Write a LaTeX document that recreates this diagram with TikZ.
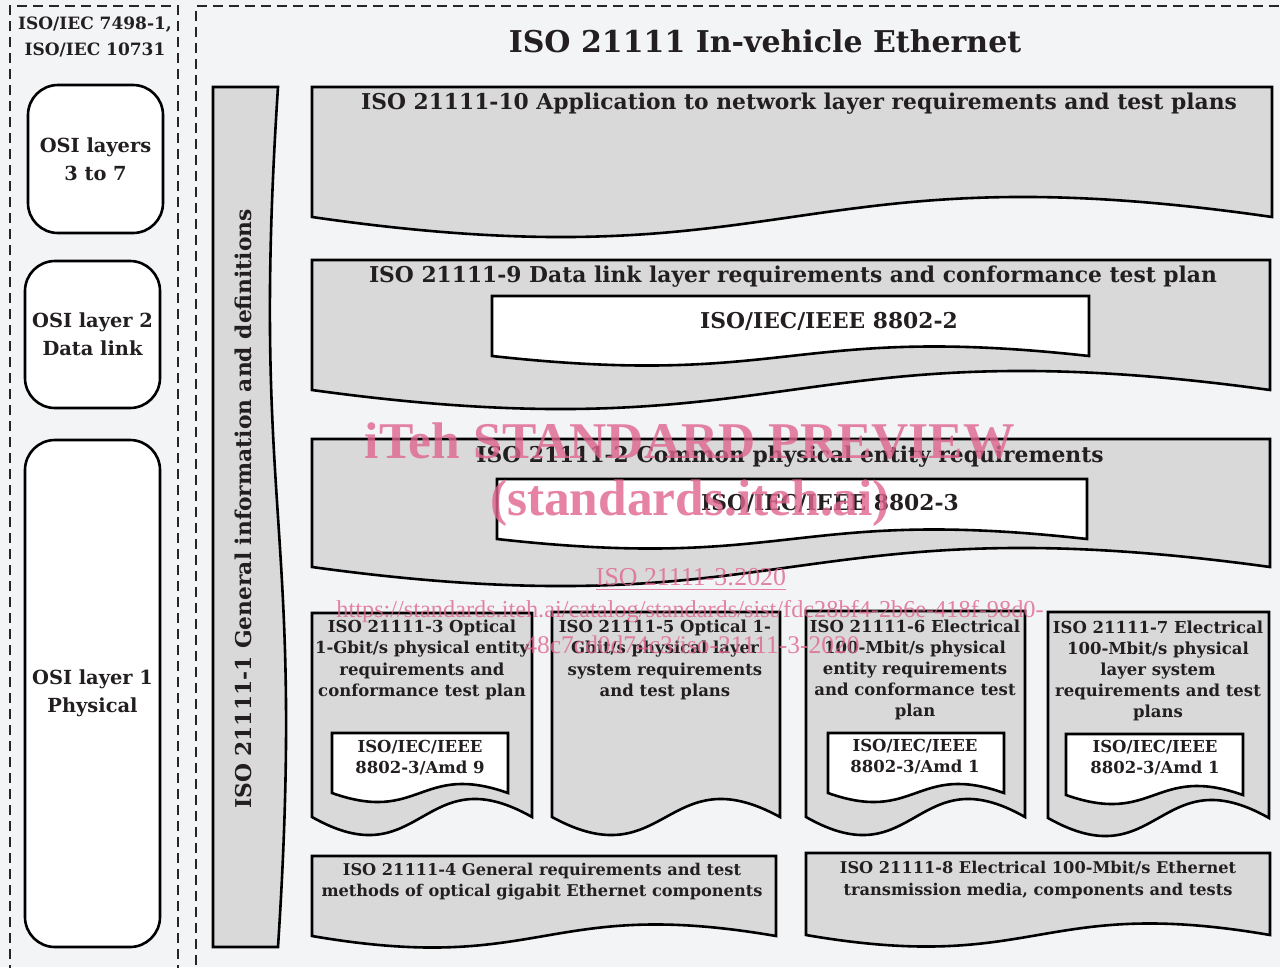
\documentclass[tikz,border=0pt]{standalone}
\usepackage{fontspec}
\setmainfont{DejaVu Serif}
\newfontfamily\wmfont{Liberation Serif}
\definecolor{bg}{HTML}{F3F4F6}
\definecolor{shade}{HTML}{D9D9D9}
\definecolor{ink}{HTML}{231F20}
\definecolor{wm}{HTML}{E0658F}
\newcommand\TitleFont{\fontsize{30}{36}\selectfont\bfseries}
\newcommand\HdrFont{\fontsize{21.8}{26}\selectfont\bfseries}
\newcommand\StdFont{\fontsize{21.8}{26}\selectfont\bfseries}
\newcommand\SmallFont{\fontsize{16.5}{21.2}\selectfont\bfseries}
\newcommand\BotFont{\fontsize{16.2}{21.2}\selectfont\bfseries}
\newcommand\OsiFont{\fontsize{19.4}{28}\selectfont\bfseries}
\newcommand\LeftFont{\fontsize{17}{26}\selectfont\bfseries}
\newcommand\DocShape[6]{\path[#1] (#2,#3) -- (#4,#3) -- (#4,#5) .. controls ({(#2+#4)/2},{#5-3.47*#6}) and ({(#2+#4)/2},{#5+3.47*#6}) .. (#2,#5) -- cycle;}
\tikzset{
  docline/.style={draw=black, line width=2.6pt, line join=miter},
  gdoc/.style={docline, fill=shade},
  wdoc/.style={docline, fill=white},
  osibox/.style={draw=black, line width=2.6pt, fill=white, rounded corners=30pt, align=center, font=\OsiFont, text=ink, inner sep=0pt},
  panel/.style={draw=black!85, line width=1.5pt, dash pattern=on 10pt off 6pt},
  hdr/.style={font=\HdrFont, text=ink, inner sep=0pt},
  stdtxt/.style={font=\StdFont, text=ink, inner sep=0pt},
  smalltxt/.style={font=\SmallFont, text=ink, inner sep=0pt, align=center},
  bottxt/.style={font=\BotFont, text=ink, inner sep=0pt, align=center},
  wmtxt/.style={text=wm, opacity=0.8, inner sep=0pt}
}
\begin{document}
\begin{tikzpicture}[x=1pt,y=-1pt]
\fill[bg] (0,0) rectangle (1280,967);
\useasboundingbox (0,0) rectangle (1280,967);
% panels
\draw[panel] (10,975) -- (10,6) -- (178,6) -- (178,975);
\draw[panel] (1295,6) -- (196,6) -- (196,975);
% left column
\node[font=\LeftFont, text=ink, align=center, inner sep=0pt] (leftref) at (95,37) {ISO/IEC 7498-1,\\ISO/IEC 10731};
\node[osibox, minimum width=135pt, minimum height=148pt] (osi37) at (95.5,159) {OSI layers\\3 to 7};
\node[osibox, minimum width=135pt, minimum height=147pt] (osi2) at (92.5,334.5) {OSI layer 2\\Data link};
\node[osibox, minimum width=135pt, minimum height=507pt] (osi1) at (92.5,693.5) {OSI layer 1\\Physical};
% title
\node[font=\TitleFont, text=ink, inner sep=0pt] (title) at (765,41) {ISO 21111 In-vehicle Ethernet};
% general info shape
\path[gdoc] (213,87) -- (278,87) .. controls (250,517) and (306,517) .. (278,947) -- (213,947) -- cycle;
\node[hdr, rotate=90] (part1) at (243,509) {ISO 21111-1 General information and definitions};
% part 10
\DocShape{gdoc}{312}{87}{1272}{217}{20}
\node[hdr] (part10) at (799,104) {ISO 21111-10 Application to network layer requirements and test plans};
% part 9
\DocShape{gdoc}{312}{260}{1270}{390}{19}
\node[hdr] (part9) at (793,277) {ISO 21111-9 Data link layer requirements and conformance test plan};
\DocShape{wdoc}{492}{296}{1089}{356}{9.5}
\node[stdtxt] (ieee2) at (829,321) {ISO/IEC/IEEE 8802-2};
% part 2
\DocShape{gdoc}{312}{439}{1270}{567}{19}
\node[hdr] (part2) at (790,457) {ISO 21111-2 Common physical entity requirements};
\DocShape{wdoc}{497}{479}{1087}{539}{9.5}
\node[stdtxt] (ieee3) at (830,503) {ISO/IEC/IEEE 8802-3};
% part 3
\DocShape{gdoc}{312}{613}{532}{817}{18}
\node[smalltxt] (part3) at (422,660) {ISO 21111-3 Optical\\1-Gbit/s physical entity\\requirements and\\conformance test plan};
\DocShape{wdoc}{332}{733}{508}{793}{9}
\node[smalltxt] (amd9) at (420,758) {ISO/IEC/IEEE\\8802-3/Amd 9};
% part 5
\DocShape{gdoc}{552}{612}{780}{817}{18}
\node[smalltxt] (part5) at (665,660) {ISO 21111-5 Optical 1-\\Gbit/s physical layer\\system requirements\\and test plans};
% part 6
\DocShape{gdoc}{806}{611}{1025}{817}{18}
\node[smalltxt] (part6) at (915,670) {ISO 21111-6 Electrical\\100-Mbit/s physical\\entity requirements\\and conformance test\\plan};
\DocShape{wdoc}{828}{733}{1004}{793}{9}
\node[smalltxt] (amd1a) at (915,757) {ISO/IEC/IEEE\\8802-3/Amd 1};
% part 7
\DocShape{gdoc}{1048}{612}{1269}{818}{18}
\node[smalltxt] (part7) at (1158,671) {ISO 21111-7 Electrical\\100-Mbit/s physical\\layer system\\requirements and test\\plans};
\DocShape{wdoc}{1066}{734}{1243}{795}{9}
\node[smalltxt] (amd1b) at (1155,758) {ISO/IEC/IEEE\\8802-3/Amd 1};
% part 4
\DocShape{gdoc}{312}{856}{776}{936}{11.5}
\node[bottxt] (part4) at (542,882) {ISO 21111-4 General requirements and test\\methods of optical gigabit Ethernet components};
% part 8
\DocShape{gdoc}{806}{853}{1270}{935}{11.5}
\node[bottxt] (part8) at (1038,880) {ISO 21111-8 Electrical 100-Mbit/s Ethernet\\transmission media, components and tests};
% watermark
\node[wmtxt] (wm1) at (690,441) {\resizebox{650pt}{!}{\wmfont\bfseries iTeh STANDARD PREVIEW}};
\node[wmtxt] (wm2) at (690,503) {\resizebox{400pt}{!}{\wmfont\bfseries (standards.iteh.ai)}};
\node[wmtxt] (wm3) at (691,580) {\resizebox{190pt}{!}{\wmfont\underline{ISO 21111-3:2020}}};
\node[wmtxt] (wm4) at (690,612) {\resizebox{707pt}{!}{\wmfont https://standards.iteh.ai/catalog/standards/sist/fdc28bf4-2b6e-418f-98d0-}};
\node[wmtxt] (wm5) at (692,645) {\resizebox{335pt}{!}{\wmfont 48c7cd0d74c3/iso-21111-3-2020}};
\end{tikzpicture}
\end{document}
